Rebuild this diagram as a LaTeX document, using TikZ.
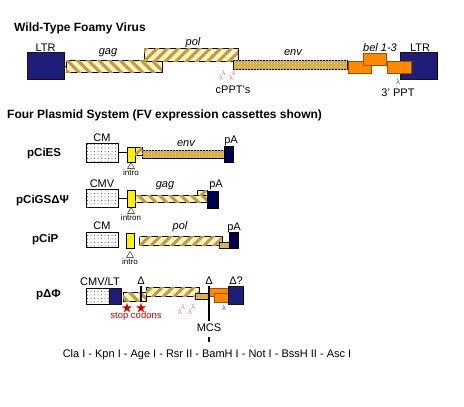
\documentclass[tikz,border=0pt]{standalone}
\usepackage{fontspec}
\setmainfont{Liberation Sans}
\usetikzlibrary{positioning,patterns,patterns.meta,shapes.geometric}
\definecolor{ltrblue}{HTML}{0A0A6E}
\definecolor{pablue}{HTML}{000050}
\definecolor{cream}{HTML}{FFF3C4}
\definecolor{stripe}{HTML}{C29A3E}
\definecolor{envtan}{HTML}{D4A846}
\definecolor{envdot}{HTML}{F6E3A0}
\definecolor{belorange}{HTML}{FF8A00}
\definecolor{lampink}{HTML}{CC77CC}
\definecolor{lamblue}{HTML}{4A4AC0}
\definecolor{stopred}{HTML}{D00000}

\begin{document}
\begin{tikzpicture}[x=1pt,y=-1pt]
\tikzstyle{seg}=[draw=black,line width=0.5pt,inner sep=0pt,outer sep=0pt,anchor=north west]
\tikzstyle{ltrbox}=[seg,fill=ltrblue,postaction={pattern={Dots[distance=2pt,radius=0.4pt]},pattern color=white}]
\tikzstyle{gagbox}=[seg,fill=cream,postaction={pattern={Lines[angle=-45,distance=7.5pt,line width=3pt]},pattern color=stripe}]
\tikzstyle{polbox}=[seg,fill=cream,postaction={pattern={Lines[angle=45,distance=7.5pt,line width=3pt]},pattern color=stripe}]
\tikzstyle{envbox}=[seg,fill=envtan,postaction={pattern=crosshatch dots,pattern color=envdot}]
\tikzstyle{belbox}=[seg,fill=belorange,draw=belorange!60!black]
\tikzstyle{cmbox}=[seg,fill=white,postaction={pattern={Dots[distance=3.5pt,radius=0.5pt]},pattern color=black!75}]
\tikzstyle{intbox}=[seg,fill=yellow]
\tikzstyle{pabox}=[seg,fill=pablue]
\tikzstyle{lbl}=[inner sep=0pt,anchor=base,font=\fontsize{11}{13}\selectfont]
\tikzstyle{gene}=[lbl,font=\fontsize{11}{13}\selectfont\itshape]
\tikzstyle{small}=[inner sep=0pt,font=\fontsize{8}{9}\selectfont]
\tikzstyle{head}=[inner sep=0pt,anchor=base west,font=\fontsize{12}{14}\selectfont\bfseries]
\tikzstyle{plasmid}=[inner sep=0pt,anchor=base west,font=\fontsize{11.5}{14}\selectfont\bfseries]
\tikzstyle{lam}=[inner sep=0pt,text=lampink,font=\fontsize{7}{7}\selectfont]
\tikzstyle{splice}=[draw,regular polygon,regular polygon sides=3,minimum size=8pt,inner sep=0pt,anchor=north]
\tikzstyle{stopmark}=[star,star points=5,star point ratio=2.4,fill=stopred,minimum size=10pt,inner sep=0pt]
\tikzstyle{delline}=[line width=2pt]
\path[use as bounding box,fill=white] (0,0) rectangle (464,407);

% wild-type genome
\node[head] (wtTitle) at (14,31.5) {Wild-Type Foamy Virus};
\node[ltrbox,minimum width=37,minimum height=27] (ltr5) at (27,52) {};
\node[gagbox,minimum width=96,minimum height=12] (gag) at (66,60) {};
\node[polbox,minimum width=94,minimum height=13] (pol) at (144,48) {};
\node[envbox,minimum width=114,minimum height=9] (env) at (233,60) {};
\node[ltrbox,minimum width=37,minimum height=27] (ltr3) at (400,52) {};
\node[belbox,minimum width=23,minimum height=12] (bel1) at (348,61) {};
\node[belbox,minimum width=23,minimum height=12] (bel2) at (363,53) {};
\node[belbox,minimum width=24,minimum height=12] (bel3) at (387,61) {};
\draw (ltr5.east |- gag.west) -- (gag.west);
\node[lbl] (ltr5Lbl) at (45.5,51) {LTR};
\node[gene] (gagLbl) at (108,54) {gag};
\node[gene] (polLbl) at (193,45) {pol};
\node[gene] (envLbl) at (293,55) {env};
\node[gene] (belLbl) at (380,51) {bel 1-3};
\node[lbl] (ltr3Lbl) at (420,51) {LTR};
\foreach \x in {221,231} {
  \node[lam] (cpptLo\x) at (\x,78) {λ};
  \node[lam] (cpptHi\x) at (\x+2.5,73) {λ};
}
\node[lbl] (cpptLbl) at (233,93) {cPPT's};
\node[lam,text=lamblue] (pptLam) at (398,82) {λ};
\node[lbl] (pptLbl) at (398,96) {3' PPT};

% expression cassettes
\node[head] (fpTitle) at (7,118) {Four Plasmid System (FV expression cassettes shown)};

% pCiES
\node[plasmid] (pCiES) at (27,156) {pCiES};
\node[cmbox,minimum width=32,minimum height=19] (cm1) at (86,143) {};
\node[intbox,minimum width=8,minimum height=15] (int1) at (127,147) {};
\node[polbox,minimum width=7,minimum height=8] (pol1) at (135,147) {};
\node[envbox,minimum width=82,minimum height=8] (env1) at (142,150) {};
\node[pabox,minimum width=9,minimum height=16] (pa1) at (224,146) {};
\draw (cm1.east) -- (cm1.east -| int1.west);
\node[splice] (spl1) at (int1.south) {};
\node[small,below=1pt of spl1] (spl1Lbl) {intro};
\node[lbl] (cm1Lbl) at (102,141) {CM};
\node[gene] (env1Lbl) at (186,146) {env};
\node[lbl] (pa1Lbl) at (231,143) {pA};

% pCiGS
\node[plasmid] (pCiGS) at (16,203) {pCiGSΔΨ};
\node[cmbox,minimum width=32,minimum height=18] (cm2) at (86,189) {};
\node[intbox,minimum width=8,minimum height=17] (int2) at (127,190) {};
\node[gagbox,minimum width=72,minimum height=7] (gag2) at (135,195) {};
\node[polbox,minimum width=10,minimum height=5] (pol2) at (197,190) {};
\node[pabox,minimum width=11,minimum height=17] (pa2) at (207,191) {};
\draw (cm2.east) -- (cm2.east -| int2.west);
\node[splice] (spl2) at (int2.south) {};
\node[small,below=1pt of spl2] (spl2Lbl) {intron};
\node[lbl] (cm2Lbl) at (102,187) {CMV};
\node[gene] (gag2Lbl) at (165,187) {gag};
\node[lbl] (pa2Lbl) at (216,187) {pA};

% pCiP
\node[plasmid] (pCiP) at (32,242) {pCiP};
\node[cmbox,minimum width=32,minimum height=15] (cm3) at (86,232) {};
\node[intbox,minimum width=8,minimum height=15] (int3) at (126,233) {};
\node[polbox,minimum width=83,minimum height=9] (pol3) at (139,236) {};
\node[envbox,minimum width=10,minimum height=6] (env3) at (219,242) {};
\node[pabox,minimum width=9,minimum height=16] (pa3) at (229,232) {};
\node[splice] (spl3) at ([yshift=-3pt]int3.south) {};
\node[small,below=1pt of spl3] (spl3Lbl) {intro};
\node[lbl] (cm3Lbl) at (102,229) {CM};
\node[gene] (pol3Lbl) at (180,229) {pol};
\node[lbl] (pa3Lbl) at (234,230) {pA};

% pDeltaPhi
\node[plasmid] (pDF) at (36,297) {pΔΦ};
\node[cmbox,minimum width=23,minimum height=16] (cm4) at (86,288) {};
\node[ltrbox,minimum width=12,minimum height=16] (lt4) at (109,288) {};
\node[gagbox,minimum width=23,minimum height=9] (gag4) at (123,292) {};
\node[polbox,minimum width=53,minimum height=9] (pol4) at (146,287) {};
\node[envbox,minimum width=14,minimum height=6] (env4) at (195,293) {};
\node[belbox,minimum width=20,minimum height=8] (bel4a) at (209,288) {};
\node[belbox,minimum width=15,minimum height=9] (bel4b) at (214,293) {};
\node[ltrbox,minimum width=15,minimum height=18] (ltr4) at (228,286) {};
\node[lbl] (cm4Lbl) at (100,285) {CMV/LT};
\node[lbl] (del1) at (141,284) {Δ};
\node[lbl] (del2) at (209,284) {Δ};
\node[lbl] (del3) at (236,284) {Δ?};
\coordinate (del1Bot) at (141,302);
\coordinate (mcsTop) at (209,286);
\coordinate (mcsLow) at (209,342);
\draw[delline] ([yshift=-2pt]del1.south) -- (del1Bot);
\node[stopmark] (stop1) at (127,308) {};
\node[stopmark] (stop2) at (141,308) {};
\node[lbl,text=stopred,font=\fontsize{9.5}{11}\selectfont] (stopLbl) at (136,318) {stop codons};
\foreach \x in {180,190} {
  \node[lam] (dfLo\x) at (\x,312) {λ};
  \node[lam] (dfHi\x) at (\x+3,307) {λ};
}
\node[lam,text=lamblue] (dfLam) at (224,308) {λ};
\node[lbl] (mcs) at (209,331) {MCS};
\draw[delline] (mcsTop) -- ([yshift=2pt]mcs.north);
\draw[delline] ([yshift=-6pt]mcs.south) -- (mcsLow);
\node[lbl] (sites) at (207,357) {Cla I - Kpn I - Age I - Rsr II - BamH I - Not I - BssH II - Asc I};
\end{tikzpicture}
\end{document}
